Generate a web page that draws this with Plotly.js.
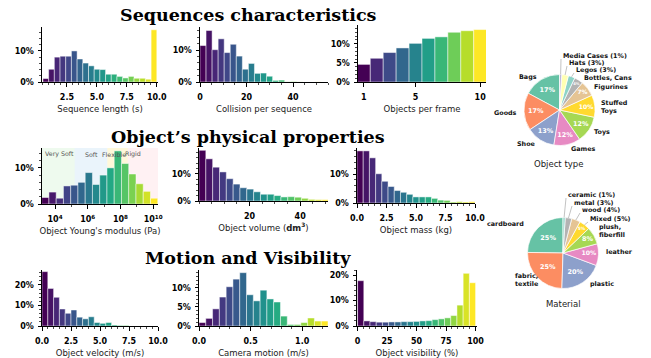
<!DOCTYPE html>
<html><head><meta charset="utf-8">
<script src="https://cdn.plot.ly/plotly-3.0.1.min.js"></script>
<style>html,body{margin:0;padding:0;background:#fff;}#chart{width:651px;height:358px;}</style>
</head><body><div id="chart"></div>
<script>
// ---------------- data ----------------
const seqLenStart = 0.5, seqLenBin = 0.475;
const seqLenPct = [1.1,4.1,8.0,8.3,8.3,10.0,7.4,6.1,5.2,4.1,4.0,2.5,2.5,1.8,1.3,1.8,1.2,1.2,0.9,16.8];
const collStart = 0, collBin = 2.6;
const collPct = [11.4,16.1,10.1,13.5,9.2,11.8,8.1,4.0,5.8,2.7,2.8,1.8,0.5,0.6,0.05,0.15,0.03,0,0,0.03];
const objFrameStart = 0.5, objFrameBin = 1;
const objFramePct = [4.6,6.2,7.7,8.9,10.1,11.4,11.8,13.0,13.4,13.7];
const youngStartExp = 3.18, youngBinExp = 0.444;
const youngPct = [1.8,3.3,1.6,5.0,5.2,6.0,8.7,5.4,8.0,10.0,14.7,11.2,8.3,5.6,3.5,1.6];
const youngClasses = ['Very Soft','Soft','Flexible','Rigid'];
const youngClassEdgesExp = [3.18,5.2,7.2,8.45,10.3];
const youngClassLabelExp = [4.25,6.2,7.63,8.75];
const volStart = 0, volBin = 2.7;
const volPct = [18.75,15.6,12.5,10.75,8.25,6.25,4.9,4.4,3.4,2.5,2.5,2.0,1.5,1.6,1.4,1.0,0.6,0.5,0.5];
const massStart = 0, massBin = 10/19;
const massPct = [18.0,18.0,15.6,10.1,7.5,5.7,4.3,3.7,3.0,2.1,2.1,2.1,1.6,1.0,0.9,0.35,0.45,0.35,0.45];
const velStart = 0, velBin = 0.5;
const velPct = [26.5,18.3,14.0,8.3,6.2,7.8,4.3,3.5,4.5,1.7,1.3,1.7,0.5,0.3,0.3,0,0,0,0,0];
const camStart = 0, camBin = 1.25/19;
const camPct = [0.9,2.0,4.5,7.6,10.3,12.3,14.0,8.2,6.6,9.4,7.1,6.3,2.6,0.4,0.4,0.9,2.1,1.3,1.3];
const visStart = 0, visBin = 100/19;
const visPct = [17.8,2.0,1.7,1.5,1.5,1.6,1.6,1.7,1.7,1.8,2.0,2.1,2.5,2.8,3.2,4.1,8.2,20.7,17.0];

const objTypeNames = ['Bags','Goods','Shoe','Games','Toys','Stuffed<br>Toys','Figurines','Bottles, Cans','Legos','Hats','Media Cases'];
const objTypePct = [17,17,13,12,12,10,7,4,3,3,1];
const materialNames = ['cardboard','fabric,<br>textile','plastic','leather','plush,<br>fiberfill','Mixed','wood','metal','ceramic'];
const materialPct = [25,25,20,10,8,5,4,3,1];

const sectionTitles = ['Sequences characteristics','Object\u2019s physical properties','Motion and Visibility'];

// ---------------- style / layout helpers ----------------
const W = 651, H = 358;
const X = px => px / W;
const Y = py => 1 - py / H;
const VIR = ['#440154','#482475','#414487','#355f8d','#2a788e','#21918c','#22a884','#44bf70','#7ad151','#bddf26','#fde725'];
function hexToRgb(h){const n=parseInt(h.slice(1),16);return [(n>>16)&255,(n>>8)&255,n&255];}
function viridis(t){const p=Math.max(0,Math.min(1,t))*10;const i=Math.min(9,Math.floor(p));const f=p-i;const a=hexToRgb(VIR[i]),b=hexToRgb(VIR[i+1]);return 'rgb('+a.map((v,k)=>Math.round(v+(b[k]-v)*f)).join(',')+')';}

const tickFont = {family:'DejaVu Sans', size:8, color:'#000', weight:'bold'};
const titleFont = {family:'DejaVu Sans', size:8.5, color:'#222'};

const panels = [
 {pct:seqLenPct, start:seqLenStart, w:seqLenBin, box:[42,158,27,82], xr:[0.42,10.1], yr:[0,17.7], x:{dtick:2.5, fmt:'.1f', minor:0.5}, y:{dtick:10, minor:2}, title:'Sequence length (s)'},
 {pct:collPct, start:collStart, w:collBin, box:[200,328,27,82], xr:[0,55], yr:[0,17.2], x:{dtick:20, minor:5}, y:{dtick:10, minor:2}, title:'Collision per sequence'},
 {pct:objFramePct, start:objFrameStart, w:objFrameBin, box:[358,486,25,82], xr:[0.55,10.45], yr:[0,14.9], x:{tickvals:[1,5,10]}, y:{dtick:5, minor:1}, title:'Objects per frame'},
 {pct:youngPct, start:youngStartExp, w:youngBinExp, box:[42,158,148,204], xr:[3.2,10.3], yr:[0,15.5], x:{tickvals:[4,6,8,10], ticktext:['10<sup>4</sup>','10<sup>6</sup>','10<sup>8</sup>','10<sup>10</sup>'], minor:1}, y:{dtick:10, minor:2}, title:'Object Young\'s modulus (Pa)'},
 {pct:volPct, start:volStart, w:volBin, box:[199,328,148,201], xr:[0,51], yr:[0,19.6], x:{tickvals:[20,40], minor:5}, y:{dtick:10, minor:2}, title:'Object volume (<b>dm<sup>3</sup></b>)'},
 {pct:massPct, start:massStart, w:massBin, box:[357,475,148,203], xr:[0,10], yr:[0,19], x:{dtick:2.5, fmt:'.1f', minor:0.5}, y:{dtick:10, minor:2}, title:'Object mass (kg)'},
 {pct:velPct, start:velStart, w:velBin, box:[42,158,270,326], xr:[0,10], yr:[0,27.3], x:{dtick:2.5, fmt:'.1f', minor:0.5}, y:{dtick:10, minor:2}, title:'Object velocity (m/s)'},
 {pct:camPct, start:camStart, w:camBin, box:[199,328,270,326], xr:[0,1.25], yr:[0,14.7], x:{dtick:0.5, fmt:'.1f', minor:0.1}, y:{dtick:5, minor:1}, title:'Camera motion (m/s)'},
 {pct:visPct, start:visStart, w:visBin, box:[357,477,270,326], xr:[-0.5,101.2], yr:[0,22], x:{dtick:25, minor:5}, y:{dtick:10, minor:2}, title:'Object visibility (%)'}
];

const traces = [];
const layout = {width:W, height:H, margin:{l:0,r:0,t:0,b:0}, paper_bgcolor:'#fff', plot_bgcolor:'rgba(0,0,0,0)', showlegend:false, annotations:[], shapes:[]};

function minorCfg(d){return {dtick:d, tick0:0, ticks:'outside', ticklen:2, tickwidth:0.7, tickcolor:'#000', showgrid:false};}

panels.forEach((p,i)=>{
  const s = i===0 ? '' : String(i+1);
  const n = p.pct.length;
  traces.push({type:'bar', xaxis:'x'+s, yaxis:'y'+s,
    x:p.pct.map((_,k)=>p.start+(k+0.5)*p.w), y:p.pct, width:p.pct.map(()=>p.w),
    marker:{color:p.pct.map((_,k)=>viridis(n>1?k/(n-1):0)), line:{color:'rgba(255,255,255,0.6)', width:0.8}},
    hoverinfo:'skip'});
  const [x0,x1,y0,y1] = p.box;
  const xa = {domain:[X(x0),X(x1)], range:p.xr, anchor:'y'+s, showline:true, linecolor:'#000', linewidth:1,
    ticks:'outside', ticklen:3.5, tickwidth:1, tickcolor:'#000', showgrid:false, zeroline:false, tickfont:tickFont,
    ticklabelstandoff:4, title:{text:p.title, font:titleFont, standoff:4}, fixedrange:true};
  if (p.x.tickvals){ xa.tickmode='array'; xa.tickvals=p.x.tickvals; if(p.x.ticktext) xa.ticktext=p.x.ticktext; }
  else { xa.tickmode='linear'; xa.tick0=0; xa.dtick=p.x.dtick; if(p.x.fmt) xa.tickformat=p.x.fmt; }
  if (p.x.minor) xa.minor = minorCfg(p.x.minor);
  const ya = {domain:[Y(y1),Y(y0)], range:p.yr, anchor:'x'+s, showline:true, linecolor:'#000', linewidth:1,
    ticks:'outside', ticklen:3.5, tickwidth:1, tickcolor:'#000', showgrid:false, zeroline:false, tickfont:tickFont,
    ticklabelstandoff:2, tickmode:'linear', tick0:0, dtick:p.y.dtick, ticksuffix:'%', minor:minorCfg(p.y.minor), fixedrange:true};
  layout['xaxis'+s] = xa;
  layout['yaxis'+s] = ya;
});

// Young's modulus class regions
const regionFill = ['rgba(120,220,120,0.13)','rgba(150,200,235,0.2)','rgba(255,230,120,0.28)','rgba(255,180,190,0.18)'];
youngClasses.forEach((c,k)=>{
  layout.shapes.push({type:'rect', xref:'x4', yref:'y4 domain', x0:youngClassEdgesExp[k], x1:youngClassEdgesExp[k+1], y0:0, y1:1,
    fillcolor:regionFill[k], line:{width:0}, layer:'below'});
  layout.annotations.push({xref:'x4', yref:'y4 domain', x:youngClassLabelExp[k], y:0.89, text:c, showarrow:false,
    font:{family:'DejaVu Sans', size:6.3, color:'#555'}, xanchor:'center', yanchor:'middle'});
});

// Section titles
const titleY = [15, 137, 258];
sectionTitles.forEach((t,k)=>{
  layout.annotations.push({xref:'paper', yref:'paper', x:X(248), y:Y(titleY[k]), text:t, showarrow:false,
    font:{family:'DejaVu Serif', size:17.5, color:'#000', weight:'bold'}, xanchor:'center', yanchor:'middle'});
});

// Pies
const PIE_COLORS = ['#66c2a5','#fc8d62','#8da0cb','#e78ac3','#a6d854','#ffd92f','#e5c494','#b3b3b3','#8dd3c7','#ffffb3','#bebada'];
const pies = [
 {names:objTypeNames, vals:objTypePct, cx:559.5, cy:110, r:35.5, nInside:8, pctInLabelFrom:8, leaderFrom:8, caption:'Object type', capPos:[558,164],
  labelPos:[[539,77,'right'],[519,113,'right'],[538,144,'right'],[569,149,'left'],[592,132,'left'],[599,107,'left'],[592,87,'left'],[582,78,'left'],[574,70,'left'],[567,63,'left'],[561,56,'left']]},
 {names:materialNames, vals:materialPct, cx:563, cy:253, r:35.5, nInside:6, pctInLabelFrom:5, leaderFrom:5, caption:'Material', capPos:[563,304],
  labelPos:[[526,224,'right'],[513,280,'left'],[588,284,'left'],[604,252,'left'],[597,231,'left'],[588,219,'left'],[580,210,'left'],[572,203,'left'],[566,195,'left']]}
];
pies.forEach(p=>{
  const tot = p.vals.reduce((a,b)=>a+b,0);
  traces.push({type:'pie', values:p.vals, labels:p.names, sort:false, direction:'counterclockwise',
    rotation:-p.vals[0]/tot*360,
    domain:{x:[X(p.cx-p.r),X(p.cx+p.r)], y:[Y(p.cy+p.r),Y(p.cy-p.r)]},
    marker:{colors:PIE_COLORS.slice(0,p.vals.length), line:{color:'#fff', width:0.7}},
    texttemplate:p.vals.map((v,i)=> i<p.nInside ? '%{percent:.0%}' : ''),
    textposition:'inside', insidetextorientation:'horizontal',
    textfont:{family:'DejaVu Sans', size:6.5, color:'#fff', weight:'bold'},
    hoverinfo:'skip', showlegend:false});
  let cum = 0;
  p.vals.forEach((v,i)=>{
    const mid = (cum + v/2)/tot*2*Math.PI; cum += v;
    const [lx,ly,anc] = p.labelPos[i];
    const txt = p.names[i] + (i>=p.pctInLabelFrom ? ' ('+Math.round(v/tot*100)+'%)' : '');
    layout.annotations.push({xref:'paper', yref:'paper', x:X(lx), y:Y(ly), text:txt, showarrow:false, align:'left',
      font:{family:'DejaVu Sans', size:6.4, color:'#111', weight:'bold'}, xanchor:anc, yanchor:'middle'});
    if (i>=p.leaderFrom){
      const ex = p.cx - p.r*Math.sin(mid), ey = p.cy - p.r*Math.cos(mid);
      layout.shapes.push({type:'line', xref:'paper', yref:'paper', x0:X(ex), y0:Y(ey), x1:X(lx), y1:Y(ly+3),
        line:{color:'#999', width:0.6}});
    }
  });
  layout.annotations.push({xref:'paper', yref:'paper', x:X(p.capPos[0]), y:Y(p.capPos[1]), text:p.caption, showarrow:false,
    font:{family:'DejaVu Sans', size:8.5, color:'#222'}, xanchor:'center', yanchor:'middle'});
});

Plotly.newPlot('chart', traces, layout, {staticPlot:true, displayModeBar:false});
</script>
</body></html>
